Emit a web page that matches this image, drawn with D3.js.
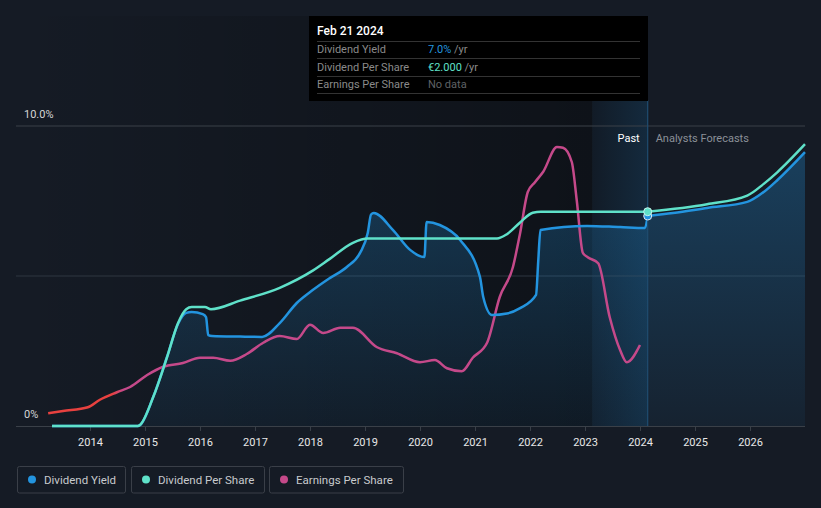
<!DOCTYPE html>
<html><head><meta charset="utf-8">
<script src="https://cdn.jsdelivr.net/npm/d3@7/dist/d3.min.js"></script>
<style>
html,body{margin:0;padding:0;background:#151b25;}
svg{display:block;font-family:Roboto,"Noto Sans",sans-serif;}
</style></head><body>
<svg id="chart" width="821" height="508"></svg>
<script>
// ---- data ----
const yearTicks = [2014,2015,2016,2017,2018,2019,2020,2021,2022,2023,2024,2025,2026];
const yieldTicks = [0, 10];
const yieldTickLabels = ["0%", "10.0%"];
const pastEnd = 2024.14; // Feb 21 2024
const lastYearStart = 2023.13;

// Dividend Yield (%), past
const yieldPast = [[2013.31,0],[2014.87,0],[2014.91,0.03],[2015.15,0.97],[2015.40,2.3],[2015.60,3.4],[2015.75,3.77],[2015.85,3.8],[2016.05,3.73],[2016.11,3.63],[2016.15,3.03],[2016.22,3.0],[2016.73,2.98],[2017.13,2.97],[2017.45,3.43],[2017.76,4.1],[2018.05,4.53],[2018.36,4.93],[2018.67,5.3],[2018.91,5.77],[2019.05,6.43],[2019.11,7.05],[2019.16,7.1],[2019.51,6.53],[2019.82,5.87],[2020.08,5.63],[2020.12,6.8],[2020.36,6.7],[2020.73,6.2],[2021.09,4.97],[2021.15,4.3],[2021.31,3.7],[2021.58,3.75],[2021.82,3.93],[2022.11,4.37],[2022.15,5.5],[2022.19,6.53],[2023.04,6.67],[2023.64,6.63],[2024.09,6.6],[2024.14,7.0]];
// Dividend Yield (%), analyst forecasts
const yieldForecast = [[2024.14,7.0],[2024.6,7.1],[2025.22,7.27],[2025.95,7.47],[2026.25,7.8],[2026.5,8.2],[2027.0,9.13]];

// Dividend Per Share (EUR), past
const dpsPast = [[2013.31,0],[2014.87,0],[2014.91,0.01],[2015.15,0.27],[2015.40,0.64],[2015.60,0.96],[2015.75,1.09],[2015.85,1.11],[2016.09,1.11],[2016.2,1.09],[2016.73,1.17],[2017.45,1.29],[2018.05,1.45],[2018.36,1.56],[2018.78,1.71],[2019.05,1.75],[2021.4,1.75],[2021.58,1.79],[2021.82,1.9],[2022.05,1.99],[2022.2,2.0],[2024.14,2.0]];
// Dividend Per Share (EUR), forecasts
const dpsForecast = [[2024.14,2.0],[2025.22,2.07],[2025.95,2.15],[2026.25,2.26],[2026.5,2.37],[2027.0,2.63]];

// Earnings Per Share (EUR)
const epsPast = [[2013.24,0.17],[2013.51,0.2],[2013.96,0.25],[2014.18,0.35],[2014.49,0.45],[2014.73,0.52],[2015.04,0.68],[2015.33,0.79],[2015.69,0.84],[2016.0,0.91],[2016.24,0.91],[2016.55,0.87],[2016.85,0.96],[2017.15,1.11],[2017.45,1.2],[2017.76,1.16],[2018.0,1.35],[2018.24,1.24],[2018.55,1.31],[2018.78,1.31],[2019.22,1.05],[2019.58,0.97],[2020.0,0.85],[2020.27,0.88],[2020.49,0.77],[2020.76,0.73],[2020.96,0.91],[2021.22,1.11],[2021.45,1.72],[2021.69,2.12],[2021.82,2.57],[2021.96,3.12],[2022.09,3.25],[2022.24,3.39],[2022.49,3.72],[2022.6,3.71],[2022.76,3.52],[2022.85,3.01],[2022.96,2.31],[2023.05,2.25],[2023.24,2.17],[2023.45,1.45],[2023.64,1.01],[2023.76,0.85],[2024.0,1.08]];
const epsRedUntil = 2014.5;

const legendItems = [
  {label:"Dividend Yield", color:"#2394df"},
  {label:"Dividend Per Share", color:"#5fe1c9"},
  {label:"Earnings Per Share", color:"#c5498a"}
];
const tooltipRows = [
  {label:"Dividend Yield", value:"7.0%", unit:" /yr", color:"#2394df"},
  {label:"Dividend Per Share", value:"€2.000", unit:" /yr", color:"#5fe1c9"},
  {label:"Earnings Per Share", value:"No data", unit:"", color:"#5f6266"}
];

// ---- layout ----
const svg = d3.select("#chart");
const L = 16, R = 805, T = 126, B = 426;
const x = d3.scaleLinear().domain([2012.655, 2027.0]).range([L, R]);
const y = d3.scaleLinear().domain([0, 10]).range([B, T]);
const yDps = d3.scaleLinear().domain([0, 2.8]).range([B, T]);
const yEps = d3.scaleLinear().domain([0, 4]).range([B, T]);

const defs = svg.append("defs");
const pastGrad = defs.append("linearGradient").attr("id","pastGrad").attr("x1","0").attr("x2","1").attr("y1","0").attr("y2","0");
pastGrad.append("stop").attr("offset","0").attr("stop-color","#000").attr("stop-opacity",0);
pastGrad.append("stop").attr("offset","1").attr("stop-color","#000").attr("stop-opacity",0.33);
const bandGrad = defs.append("linearGradient").attr("id","bandGrad").attr("x1","0").attr("x2","1").attr("y1","0").attr("y2","0");
bandGrad.append("stop").attr("offset","0").attr("stop-color","#2394df").attr("stop-opacity",0.04);
bandGrad.append("stop").attr("offset","1").attr("stop-color","#2394df").attr("stop-opacity",0.16);
const areaGrad = defs.append("linearGradient").attr("id","areaGrad").attr("gradientUnits","userSpaceOnUse")
  .attr("x1",0).attr("x2",0).attr("y1",T).attr("y2",B);
areaGrad.append("stop").attr("offset","0").attr("stop-color","#2394df").attr("stop-opacity",0.32);
areaGrad.append("stop").attr("offset","1").attr("stop-color","#2394df").attr("stop-opacity",0.06);
const epsGrad = defs.append("linearGradient").attr("id","epsGrad").attr("gradientUnits","userSpaceOnUse")
  .attr("x1",x(epsRedUntil)-6).attr("x2",x(epsRedUntil)+6).attr("y1",0).attr("y2",0);
epsGrad.append("stop").attr("offset","0").attr("stop-color","#e8413f");
epsGrad.append("stop").attr("offset","1").attr("stop-color","#c5498a");

// past darkening + last-year band
const topY = 16;
svg.append("rect").attr("x",L).attr("y",topY).attr("width",x(lastYearStart)-L).attr("height",B-topY).attr("fill","url(#pastGrad)");
svg.append("rect").attr("x",x(lastYearStart)).attr("y",topY).attr("width",x(pastEnd)-x(lastYearStart)).attr("height",B-topY).attr("fill","#0b0f15").attr("opacity",0.35);
svg.append("rect").attr("x",x(lastYearStart)).attr("y",topY).attr("width",x(pastEnd)-x(lastYearStart)).attr("height",B-topY).attr("fill","url(#bandGrad)");

// gridlines
svg.append("g").selectAll("line").data([5,10]).join("line")
  .attr("x1",L).attr("x2",R).attr("y1",d=>y(d)).attr("y2",d=>y(d))
  .attr("stroke",d=>d===10?"#3b4049":"#2f3640").attr("stroke-width",1);

// y labels
svg.append("g").selectAll("text").data(yieldTicks).join("text")
  .attr("x",24).attr("y",d=>y(d)-8).text((d,i)=>yieldTickLabels[i])
  .attr("fill","#d6d6d6").attr("font-size",11);

// area under yield
const allYield = yieldPast.concat(yieldForecast.slice(1));
const area = d3.area().x(d=>x(d[0])).y0(B).y1(d=>y(d[1])).curve(d3.curveMonotoneX);
svg.append("path").datum(allYield).attr("d",area).attr("fill","url(#areaGrad)");

// x axis
const axis = svg.append("g").attr("transform",`translate(0,${B})`)
  .call(d3.axisBottom(x).tickValues(yearTicks).tickFormat(d3.format("d")).tickSize(5).tickSizeOuter(0));
axis.select(".domain").attr("stroke","#3a4048");
axis.selectAll(".tick line").attr("stroke","#3a4048");
axis.selectAll(".tick text").attr("fill","#e8e8e8").attr("font-size",11).attr("dy","1.1em").attr("font-family","Roboto,sans-serif");
axis.select(".domain").attr("d",`M${L},0.5H${R}`);

// lines
const lineY = d3.line().x(d=>x(d[0])).y(d=>y(d[1])).curve(d3.curveMonotoneX);
const lineD = d3.line().x(d=>x(d[0])).y(d=>yDps(d[1])).curve(d3.curveMonotoneX);
const lineE = d3.line().x(d=>x(d[0])).y(d=>yEps(d[1])).curve(d3.curveMonotoneX);

svg.append("path").datum(epsPast).attr("d",lineE).attr("fill","none").attr("stroke","url(#epsGrad)").attr("stroke-width",2.5).attr("stroke-linejoin","round");
svg.append("path").datum(yieldPast).attr("d",lineY).attr("fill","none").attr("stroke","#2394df").attr("stroke-width",2.5).attr("stroke-linejoin","round");
svg.append("path").datum(yieldForecast).attr("d",lineY).attr("fill","none").attr("stroke","#2394df").attr("stroke-width",2.5);
svg.append("path").datum(dpsPast).attr("d",lineD).attr("fill","none").attr("stroke","#5fe1c9").attr("stroke-width",2.5).attr("stroke-linejoin","round");
svg.append("path").datum(dpsForecast).attr("d",lineD).attr("fill","none").attr("stroke","#5fe1c9").attr("stroke-width",2.5);

// vertical marker line
svg.append("line").attr("x1",x(pastEnd)).attr("x2",x(pastEnd)).attr("y1",100).attr("y2",B)
  .attr("stroke","#1f4d70").attr("stroke-width",1.2);

// Past / Analysts Forecasts
svg.append("text").attr("x",x(pastEnd)-8).attr("y",142).attr("text-anchor","end").attr("fill","#ffffff").attr("font-size",11).text("Past");
svg.append("text").attr("x",x(pastEnd)+8).attr("y",142).attr("fill","#8b9098").attr("font-size",11).text("Analysts Forecasts");

// markers
svg.append("circle").attr("cx",x(pastEnd)).attr("cy",y(7.0)).attr("r",4).attr("fill","#2394df").attr("stroke","#dfe8f0").attr("stroke-width",1);
svg.append("circle").attr("cx",x(pastEnd)).attr("cy",yDps(2.0)).attr("r",4).attr("fill","#5fe1c9").attr("stroke","#c8f5ec").attr("stroke-width",1);

// tooltip
const tt = svg.append("g");
tt.append("rect").attr("x",309).attr("y",16).attr("width",339).attr("height",85).attr("fill","#000");
tt.append("text").attr("x",317).attr("y",35).attr("fill","#fff").attr("font-size",12).attr("font-weight",500).text("Feb 21 2024");
[41,58,76,93].forEach(yy=>tt.append("line").attr("x1",317).attr("x2",640).attr("y1",yy+0.5).attr("y2",yy+0.5).attr("stroke","#333"));
tooltipRows.forEach((r,i)=>{
  const yy = 53 + i*17.7;
  tt.append("text").attr("x",317).attr("y",yy).attr("fill","#8a8a8a").attr("font-size",11).text(r.label);
  const t = tt.append("text").attr("x",428).attr("y",yy).attr("font-size",11);
  t.append("tspan").attr("fill",r.color).text(r.value);
  if (r.unit) t.append("tspan").attr("fill","#8a8a8a").text(r.unit);
});

// legend
const legX = [17, 131, 269], legW = [108, 133, 134];
const lg = svg.append("g");
legendItems.forEach((it,i)=>{
  lg.append("rect").attr("x",legX[i]+0.5).attr("y",466.5).attr("width",legW[i]).attr("height",26.5).attr("rx",2)
    .attr("fill","none").attr("stroke","#3a3f48");
  lg.append("circle").attr("cx",legX[i]+15).attr("cy",479.5).attr("r",4).attr("fill",it.color);
  lg.append("text").attr("x",legX[i]+27).attr("y",483.5).attr("fill","#c8cacd").attr("font-size",11.5).text(it.label);
});
</script>
</body></html>
